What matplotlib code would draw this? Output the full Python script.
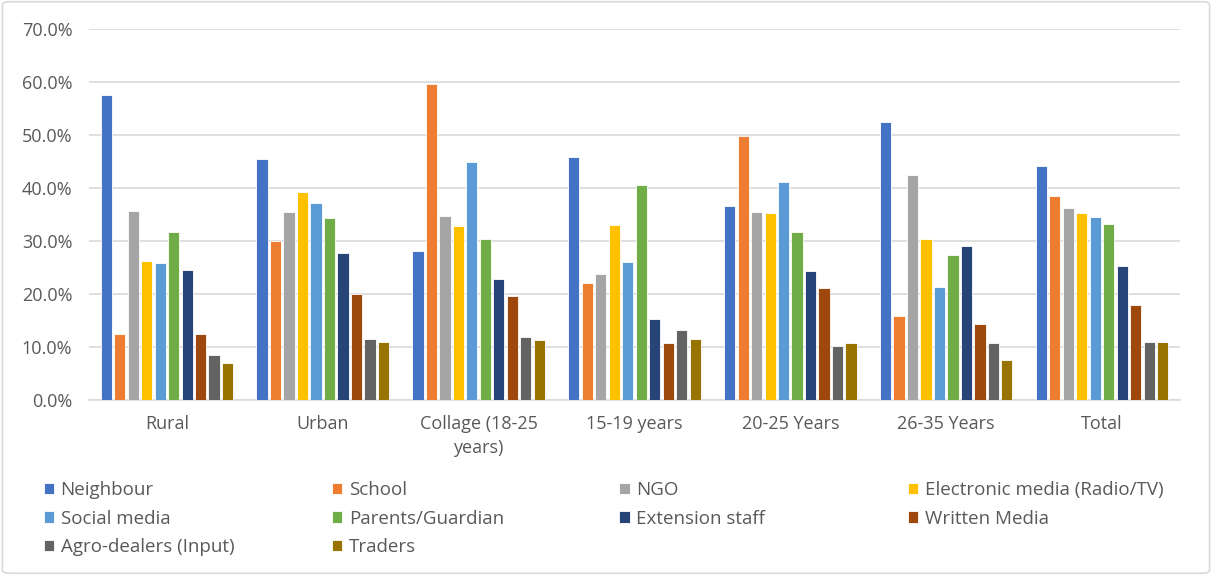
import numpy as np
import matplotlib
matplotlib.use("Agg")
import matplotlib.pyplot as plt
from matplotlib.patches import FancyBboxPatch
from matplotlib.ticker import PercentFormatter

plt.rcParams['font.family'] = ['Open Sans', 'DejaVu Sans']

# groups along the x axis
categories = ['Rural', 'Urban', 'Collage (18-25\nyears)', '15-19 years',
              '20-25 Years', '26-35 Years', 'Total']

# source of information, share of respondents (%) per group
neighbour = [57.5, 45.4, 28.1, 45.9, 36.6, 52.4, 44.1]
school = [12.5, 30.1, 59.6, 22.1, 49.9, 15.8, 38.5]
ngo = [35.6, 35.4, 34.7, 23.8, 35.4, 42.4, 36.2]
electronic_media = [26.3, 39.2, 32.9, 33.1, 35.3, 30.3, 35.3]
social_media = [25.8, 37.1, 45.0, 26.1, 41.1, 21.4, 34.6]
parents = [31.7, 34.3, 30.3, 40.6, 31.7, 27.3, 33.2]
extension_staff = [24.6, 27.8, 22.9, 15.3, 24.4, 29.1, 25.3]
written_media = [12.5, 20.0, 19.7, 10.7, 21.2, 14.3, 17.9]
agro_dealers = [8.5, 11.5, 11.9, 13.3, 10.2, 10.7, 10.9]
traders = [6.9, 11.0, 11.4, 11.5, 10.7, 7.6, 10.9]

series = [
    ('Neighbour', neighbour, '#4472C4'),
    ('School', school, '#ED7D31'),
    ('NGO', ngo, '#A5A5A5'),
    ('Electronic media (Radio/TV)', electronic_media, '#FFC000'),
    ('Social media', social_media, '#5B9BD5'),
    ('Parents/Guardian', parents, '#70AD47'),
    ('Extension staff', extension_staff, '#264478'),
    ('Written Media', written_media, '#9E480E'),
    ('Agro-dealers (Input)', agro_dealers, '#636363'),
    ('Traders', traders, '#997300'),
]

fig = plt.figure(figsize=(12.12, 5.75), dpi=100)
ax = fig.add_axes([0.0734, 0.3043, 0.9002, 0.6452])

x = np.arange(len(categories))
step = 0.0865
width = 0.072
handles = []
for i, (name, vals, color) in enumerate(series):
    offset = (i - (len(series) - 1) / 2) * step
    b = ax.bar(x + offset, vals, width, color=color, label=name,
               edgecolor='white', linewidth=0.6, zorder=3)
    handles.append(b)

ax.set_xlim(-0.5, len(categories) - 0.5)
ax.set_ylim(0, 70)
ax.set_yticks(np.arange(0, 71, 10))
ax.yaxis.set_major_formatter(PercentFormatter(decimals=1))
ax.set_xticks(x)
ax.set_xticklabels(categories, linespacing=1.4)
ax.tick_params(axis='both', length=0, labelsize=13, colors='#595959')
ax.tick_params(axis='x', pad=11)
ax.tick_params(axis='y', pad=12)
ax.grid(axis='y', color='#d9d9d9', linewidth=1.2, zorder=0)
for side in ['top', 'right', 'left']:
    ax.spines[side].set_visible(False)
ax.spines['bottom'].set_color('#d9d9d9')
ax.spines['bottom'].set_linewidth(1.2)

# legend laid out row by row in four evenly spaced columns
ncols = 4
col_x = [0.036, 0.274, 0.511, 0.749]
for c in range(ncols):
    idx = list(range(c, len(series), ncols))
    leg = fig.legend([handles[k] for k in idx], [series[k][0] for k in idx],
                     loc='upper left', bbox_to_anchor=(col_x[c], 0.163),
                     frameon=False, fontsize=13.5, labelcolor='#595959',
                     handlelength=0.55, handleheight=0.55, handletextpad=0.35,
                     labelspacing=0.56, borderaxespad=0, borderpad=0)

# light frame round the whole chart
fig.patches.append(FancyBboxPatch((0.002, 0.003), 0.996, 0.994,
                                  boxstyle='round,pad=0,rounding_size=0.006',
                                  transform=fig.transFigure, fill=False,
                                  edgecolor='#d9d9d9', linewidth=1.2))

fig.savefig('out.png', dpi=100)
